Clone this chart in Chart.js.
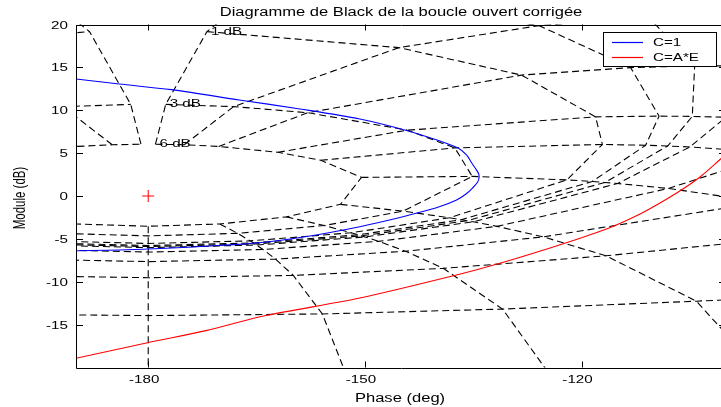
<!DOCTYPE html>
<html>
<head>
<meta charset="utf-8">
<script src="https://cdn.jsdelivr.net/npm/chart.js@4/dist/chart.umd.min.js"></script>
<style>
  html, body { margin: 0; padding: 0; background: #fff; overflow: hidden; width: 721px; height: 407px; }
  canvas { display: block; }
</style>
</head>
<body>
<canvas id="black" width="740" height="407"></canvas>
<script>
// Open-loop response with C = 1 : phase (deg) and gain (dB)
const phaseC1 = [-190.0, -184.0, -176.8, -167.4, -159.0, -150.7, -144.5, -139.6, -137.1, -135.9,
                 -135.2, -134.6, -134.25, -134.2, -134.4, -135.1, -136.0, -137.3, -139.6, -142.9,
                 -146.6, -150.7, -157.6, -164.6, -171.5, -177.5, -184.0, -190.0];
const gainC1  = [13.64, 13.06, 12.40, 11.20, 10.15, 8.98, 7.70, 6.41, 5.60, 4.78,
                 3.85, 3.10, 2.60, 2.10, 1.60, 0.93, 0.23, -0.47, -1.22, -2.02,
                 -2.80, -3.58, -4.66, -5.45, -5.83, -6.10, -6.30, -6.38];

// Open-loop response with the corrector C = A*E
const phaseAE = [-190.0, -180.1, -172.0, -163.7, -150.7, -137.3, -131.3, -122.1, -116.1, -111.9,
                 -109.2, -106.4, -103.6, -100.9, -100.2];
const gainAE  = [-18.93, -17.11, -15.70, -13.94, -11.90, -9.21, -7.85, -5.45, -3.70, -2.10,
                 -0.85, 0.58, 2.22, 4.20, 4.75];

// Critical point
const criticalPhase = [-180];
const criticalGain = [0];

// Closed-loop levels of the Nichols (Black) grid
const closedLoopGainsDb = [6, 3, 1, 0.5, 0.25, 0, -1, -3, -6, -12, -20, -40, -60, -80, -100,
                           -120, -140, -160, -180, -200, -220, -240];
const closedLoopPhasesDeg = [-1, -5, -10, -20, -30, -50, -90, -120, -150, -180,
                             -210, -240, -270, -310, -330, -340, -350, -355, -359];

// Axes and legend
const phaseTicks = [-180, -150, -120];
const gainTicks = [-15, -10, -5, 0, 5, 10, 15, 20];
const seriesNames = ['C=1', 'C=A*E'];
const seriesColors = ['#0000ff', '#ff0000'];
const titleText = 'Diagramme de Black de la boucle ouvert corrigée';
const xTitle = 'Phase (deg)';
const yTitle = 'Module (dB)';

// Open-loop point G = T/(1-T) for a closed-loop T of given gain (dB) and phase (deg)
function openLoopPoint(gDb, pDeg) {
  const m = Math.pow(10, gDb / 20), p = pDeg * Math.PI / 180;
  const tr = m * Math.cos(p), ti = m * Math.sin(p);
  const dr = 1 - tr, di = -ti;
  const d2 = dr * dr + di * di;
  const hr = (tr * dr + ti * di) / d2, hi = (ti * dr - tr * di) / d2;
  const ang = Math.atan2(hi, hr) * 180 / Math.PI;
  return { x: ((ang + 360) % 360) - 360, y: 20 * Math.log10(Math.hypot(hr, hi)) };
}

const gridStyle = {
  showLine: true, borderColor: '#000', borderWidth: 1.1, borderDash: [7, 4],
  pointRadius: 0, fill: false, tension: 0, order: 5
};
const gridSets = [];
closedLoopGainsDb.forEach(g => gridSets.push(Object.assign({
  data: closedLoopPhasesDeg.map(p => openLoopPoint(g, p))
}, gridStyle)));
closedLoopPhasesDeg.forEach(p => gridSets.push(Object.assign({
  data: closedLoopGainsDb.map(g => openLoopPoint(g, p))
}, gridStyle)));

const toPts = (xs, ys) => xs.map((x, i) => ({ x, y: ys[i] }));

const datasets = [
  { label: seriesNames[0], data: toPts(phaseC1, gainC1), showLine: true, borderColor: seriesColors[0],
    borderWidth: 1.1, pointRadius: 0, tension: 0.3, order: 0 },
  { label: seriesNames[1], data: toPts(phaseAE, gainAE), showLine: true, borderColor: seriesColors[1],
    borderWidth: 1.1, pointRadius: 0, tension: 0.3, order: 0 },
  { label: 'critique', data: toPts(criticalPhase, criticalGain), showLine: false, pointStyle: 'cross',
    pointRadius: 6, pointBorderColor: seriesColors[1], borderColor: seriesColors[1], pointBorderWidth: 1, order: 0 }
].concat(gridSets);

const FONT = "'Liberation Sans', Arial, Helvetica, sans-serif";
const SX = 1.38; // horizontal text stretch

function stretchedText(ctx, txt, x, y, size, align, baseline, rot) {
  ctx.save();
  ctx.translate(x, y);
  ctx.scale(SX, 1);
  if (rot) ctx.rotate(rot);
  ctx.font = size + 'px ' + FONT;
  ctx.textAlign = align;
  ctx.textBaseline = baseline;
  ctx.fillStyle = '#000';
  ctx.fillText(txt, 0, 0);
  ctx.restore();
}

function segment(ctx, x1, y1, x2, y2, color) {
  ctx.save();
  ctx.setLineDash([]);
  ctx.globalAlpha = 1;
  ctx.lineWidth = 1.2;
  ctx.strokeStyle = color;
  ctx.beginPath();
  ctx.moveTo(x1, y1);
  ctx.lineTo(x2, y2);
  ctx.stroke();
  ctx.restore();
}

const decorations = {
  id: 'decorations',
  afterDatasetsDraw(chart) {
    const ctx = chart.ctx, a = chart.chartArea;
    const xs = chart.scales.x, ys = chart.scales.y;
    ctx.save();
    ctx.setLineDash([]);

    // Labels of the positive closed-loop gain contours
    closedLoopGainsDb.forEach(g => {
      const pt = openLoopPoint(g, closedLoopPhasesDeg[0]);
      const px = xs.getPixelForValue(pt.x), py = ys.getPixelForValue(pt.y);
      if (px > a.left && px < a.right && py > a.top && py < a.bottom) {
        stretchedText(ctx, g + ' dB', px + 4, py, 11, 'left', 'middle');
      }
    });

    // Axes box and inward ticks
    ctx.strokeStyle = '#000';
    ctx.lineWidth = 1;
    ctx.beginPath();
    ctx.rect(Math.round(a.left) + 0.5, Math.round(a.top) + 0.5,
             Math.round(a.right - a.left), Math.round(a.bottom - a.top));
    phaseTicks.forEach(v => {
      const x = Math.round(xs.getPixelForValue(v)) + 0.5;
      ctx.moveTo(x, a.bottom); ctx.lineTo(x, a.bottom - 6);
      ctx.moveTo(x, a.top); ctx.lineTo(x, a.top + 6);
    });
    gainTicks.forEach(v => {
      const y = Math.round(ys.getPixelForValue(v)) + 0.5;
      ctx.moveTo(a.left, y); ctx.lineTo(a.left + 7, y);
      ctx.moveTo(a.right, y); ctx.lineTo(a.right - 7, y);
    });
    ctx.stroke();

    // Tick labels
    phaseTicks.forEach(v => {
      stretchedText(ctx, String(v), xs.getPixelForValue(v) - 4, a.bottom + 15, 11, 'center', 'alphabetic');
    });
    gainTicks.forEach(v => {
      stretchedText(ctx, String(v), a.left - 8, ys.getPixelForValue(v) + 4, 11, 'right', 'alphabetic');
    });

    // Titles
    stretchedText(ctx, titleText, (a.left + a.right) / 2, 16, 12, 'center', 'alphabetic');
    stretchedText(ctx, xTitle, (a.left + a.right) / 2 - 1, 401.5, 12, 'center', 'alphabetic');
    stretchedText(ctx, yTitle, 21, (a.top + a.bottom) / 2 + 2, 11.5, 'center', 'middle', -Math.PI / 2);
    ctx.restore();

    // Legend
    const lx = Math.round(a.right - 123), ly = Math.round(a.top + 7.5), lw = 113, lh = 34;
    ctx.save();
    ctx.fillStyle = '#fff';
    ctx.fillRect(lx, ly, lw, lh);
    ctx.setLineDash([]);
    ctx.strokeStyle = '#000';
    ctx.lineWidth = 1;
    ctx.strokeRect(lx + 0.5, ly + 0.5, lw, lh);
    ctx.restore();
    const rows = [ly + 10.5, ly + 25.5];
    segment(ctx, lx + 9, rows[0], lx + 40, rows[0], seriesColors[0]);
    segment(ctx, lx + 9, rows[1], lx + 40, rows[1], seriesColors[1]);
    stretchedText(ctx, seriesNames[0], lx + 50, rows[0], 11, 'left', 'middle');
    stretchedText(ctx, seriesNames[1], lx + 50, rows[1], 11, 'left', 'middle');
  }
};

new Chart(document.getElementById('black').getContext('2d'), {
  type: 'scatter',
  data: { datasets },
  options: {
    responsive: false,
    animation: false,
    devicePixelRatio: 1,
    layout: { padding: { left: 76, top: 24.5, right: 14, bottom: 39.5 } },
    scales: {
      x: { type: 'linear', min: -190, max: -100, display: false },
      y: { type: 'linear', min: -20, max: 20, display: false }
    },
    plugins: { legend: { display: false }, tooltip: { enabled: false }, title: { display: false } }
  },
  plugins: [decorations]
});
</script>
</body>
</html>
